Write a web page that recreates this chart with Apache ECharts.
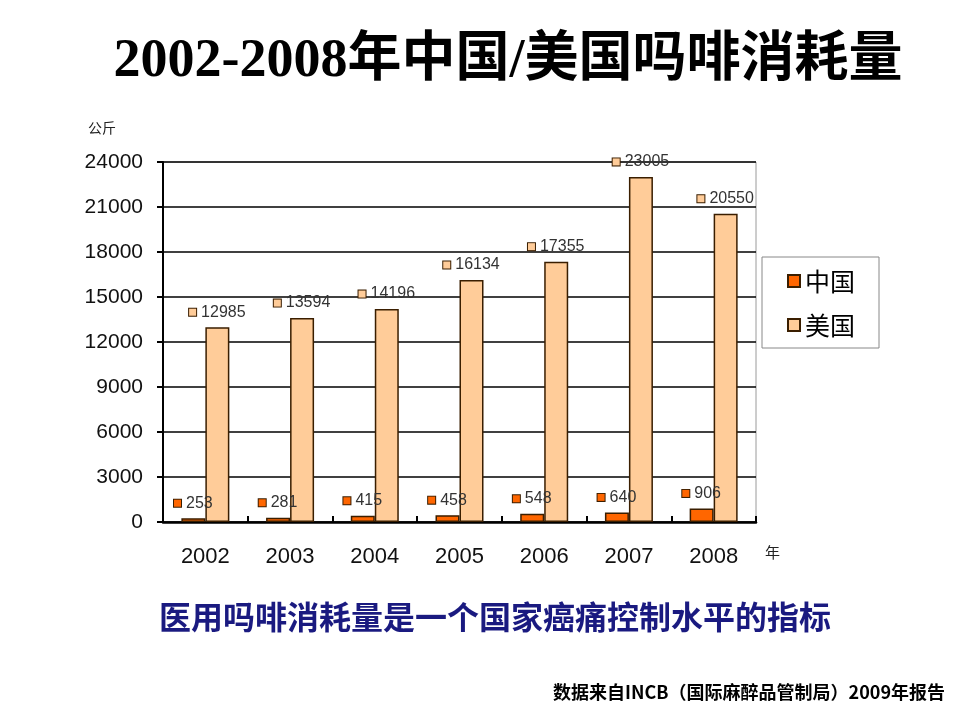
<!DOCTYPE html>
<html>
<head>
<meta charset="utf-8">
<script src="https://cdn.jsdelivr.net/npm/echarts@6/dist/echarts.min.js"></script>
<style>
  html, body { margin: 0; padding: 0; background: #fff; }
  #chart { width: 960px; height: 720px; }
</style>
</head>
<body>
<div id="chart"></div>
<script>
// data
var years = ['2002', '2003', '2004', '2005', '2006', '2007', '2008'];
var chinaValues = [253, 281, 415, 458, 548, 640, 906];
var usaValues = [12985, 13594, 14196, 16134, 17355, 23005, 20550];
var seriesNames = ['中国', '美国'];
var yTicks = [0, 3000, 6000, 9000, 12000, 15000, 18000, 21000, 24000];

var chinaColor = '#ff6600';
var usaColor = '#ffcc99';
var edgeColor = '#3a1e00';

var chartDom = document.getElementById('chart');
var myChart = echarts.init(chartDom);

// value label with a small coloured square in front
function makeLabel(color) {
    return {
        show: true,
        position: 'top',
        distance: 6,
        formatter: function (p) {
            return '{s|}{v|' + p.value + '}';
        },
        rich: {
            s: {
                width: 7,
                height: 7,
                backgroundColor: color,
                borderColor: edgeColor,
                borderWidth: 1
            },
            v: {
                fontFamily: 'Liberation Sans, Arial',
                fontSize: 16,
                color: '#333',
                padding: [0, 0, 0, 5],
                lineHeight: 18
            }
        }
    };
}

var option = {
    backgroundColor: '#fff',
    animation: false,
    grid: {
        left: 163,
        right: 204,
        top: 162,
        bottom: 198,
        show: true,
        borderColor: '#9a9a9a',
        borderWidth: 1
    },
    legend: {
        data: seriesNames,
        orient: 'vertical',
        left: 762,
        top: 257,
        padding: [11, 24, 10, 25],
        itemGap: 18,
        itemWidth: 12,
        itemHeight: 12,
        icon: 'rect',
        borderColor: '#888',
        borderWidth: 1,
        textStyle: {
            fontFamily: 'Noto Sans CJK SC',
            fontSize: 25,
            color: '#000',
            lineHeight: 26
        }
    },
    xAxis: {
        type: 'category',
        data: years,
        axisLine: { lineStyle: { color: '#000', width: 2.5 } },
        axisTick: { show: true, inside: true, length: 6, lineStyle: { color: '#000', width: 2 } },
        axisLabel: {
            margin: 24,
            fontFamily: 'Liberation Sans, Arial',
            fontSize: 22,
            color: '#111'
        }
    },
    yAxis: {
        type: 'value',
        min: yTicks[0],
        max: yTicks[yTicks.length - 1],
        interval: yTicks[1] - yTicks[0],
        axisLine: { show: true, lineStyle: { color: '#000', width: 2 } },
        axisTick: { show: true, length: 6, lineStyle: { color: '#000', width: 2 } },
        axisLabel: {
            margin: 20,
            fontFamily: 'Liberation Sans, Arial',
            fontSize: 21,
            color: '#111',
            formatter: function (v) { return String(v); }
        },
        splitLine: { lineStyle: { color: '#000', width: 1.5 } }
    },
    series: [
        {
            name: seriesNames[0],
            type: 'bar',
            barWidth: 24,
            barGap: '0%',
            data: chinaValues,
            itemStyle: { color: chinaColor, borderColor: edgeColor, borderWidth: 1.5 },
            label: makeLabel(chinaColor)
        },
        {
            name: seriesNames[1],
            type: 'bar',
            barWidth: 24,
            barGap: '0%',
            data: usaValues,
            itemStyle: { color: usaColor, borderColor: edgeColor, borderWidth: 1.5 },
            label: makeLabel(usaColor)
        }
    ],
    graphic: [
        {
            type: 'text',
            x: 508,
            y: 62,
            style: {
                text: '2002-2008年中国/美国吗啡消耗量',
                font: 'bold 54px "Liberation Serif", "Noto Sans CJK SC"',
                fill: '#000',
                align: 'center',
                verticalAlign: 'middle'
            }
        },
        {
            type: 'text',
            left: 88,
            top: 121,
            style: { text: '公斤', font: '14px "Noto Sans CJK SC"', fill: '#222' }
        },
        {
            type: 'text',
            left: 765,
            top: 545,
            style: { text: '年', font: '15px "Noto Sans CJK SC"', fill: '#222' }
        },
        {
            type: 'text',
            x: 495,
            y: 617,
            style: {
                text: '医用吗啡消耗量是一个国家癌痛控制水平的指标',
                font: 'bold 32px "Noto Sans CJK SC"',
                fill: '#1a1a80',
                align: 'center',
                verticalAlign: 'middle'
            }
        },
        {
            type: 'text',
            x: 945,
            y: 692,
            style: {
                text: '数据来自INCB（国际麻醉品管制局）2009年报告',
                font: 'bold 18px "Noto Sans CJK SC"',
                fill: '#000',
                align: 'right',
                verticalAlign: 'middle'
            }
        }
    ]
};

option && myChart.setOption(option);
</script>
</body>
</html>
